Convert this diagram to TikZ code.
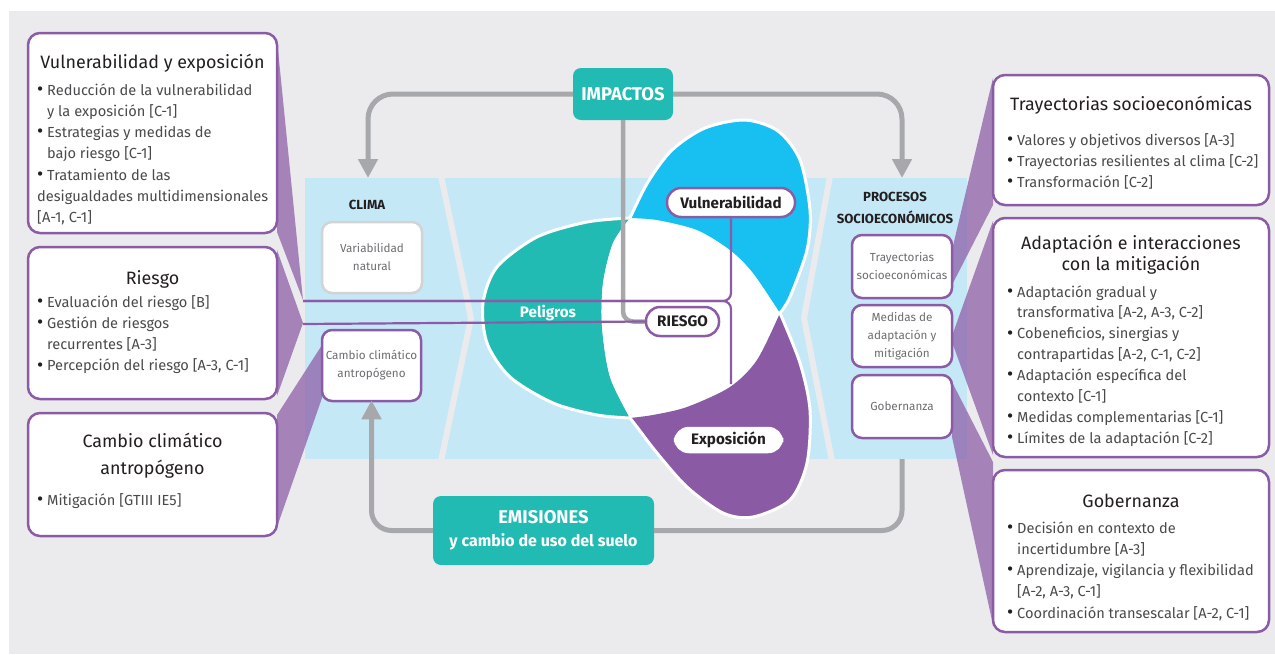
\documentclass[tikz,border=0pt]{standalone}
\usepackage{fontspec}
\usepackage{graphicx}
\setmainfont{Fira Sans}
\usetikzlibrary{arrows.meta,fit}
\definecolor{bg}{HTML}{EBEBED}
\definecolor{band}{HTML}{C5E8F7}
\definecolor{purp}{HTML}{8B5BA6}
\definecolor{tealc}{HTML}{22BBB3}
\definecolor{sky}{HTML}{17C0F0}
\definecolor{petpurp}{HTML}{8B5AA5}
\definecolor{arrowgray}{HTML}{A7A8AB}
\definecolor{txt}{HTML}{4A4A4C}
\definecolor{titlec}{HTML}{231F20}
\definecolor{smalltxt}{HTML}{6D6E71}
\definecolor{smallgray}{HTML}{D1D3D4}
\newcommand\bu{\makebox[10pt][l]{\textcolor{titlec}{\raisebox{-0.3pt}{\scalebox{1.3}{\textbullet}}}}}
\newcommand\ind{\hspace*{10pt}}
\tikzset{
  bigbox/.style={draw=purp, line width=2.5pt, fill=white, rounded corners=12pt, inner sep=0pt},
  smallbox/.style={draw=purp, line width=2.5pt, fill=white, rounded corners=10pt, inner sep=0pt},
  graybox/.style={smallbox, draw=smallgray},
  pill/.style={draw=purp, line width=2.5pt, fill=white, rounded corners=14pt, inner sep=0pt},
  headbox/.style={fill=tealc, rounded corners=8pt, inner sep=0pt},
  bodytxt/.style={align=left, inner sep=0pt, text=txt, font=\fontsize{14.6}{21.3}\selectfont},
  titletxt/.style={align=center, inner sep=0pt, text=titlec, font=\fontsize{17.9}{27}\selectfont},
  smalltext/.style={align=center, inner sep=0pt, text=smalltxt, font=\fontsize{11.7}{18}\selectfont},
  pilltxt/.style={inner sep=0pt, text=titlec, font=\fontsize{15.2}{20}\selectfont\bfseries},
  headtxt/.style={align=center, inner sep=0pt, text=white, font=\fontsize{18.4}{23}\selectfont\bfseries},
  labeltxt/.style={align=center, inner sep=0pt, text=titlec, font=\fontsize{13.2}{22}\selectfont\bfseries},
  wedge/.style={fill=purp, fill opacity=0.72},
  gline/.style={draw=arrowgray, line width=5pt},
  garrow/.style={gline, -{Triangle[width=19pt,length=19pt]}},
  pline/.style={draw=purp, line width=2.2pt},
  outline/.style={draw=white, line width=3pt}
}
\begin{document}
\begin{tikzpicture}[x=1pt,y=-1pt]
\useasboundingbox (0,0) rectangle (1275,654);
\fill[white] (0,0) rectangle (1275,654);
\fill[bg] (9,11) rectangle (1275,654);
% band
\fill[band] (305,178) rectangle (967,459);
\draw[bg, line width=6pt] (441,176) -- (471,318) -- (441,461);
\draw[bg, line width=6pt] (830,176) -- (804,318) -- (832,461);
% wedges
\fill[wedge] (277,40) -- (303,300) -- (277,232) -- cycle;
\fill[wedge] (277,250) -- (303,323) -- (277,396) -- cycle;
\fill[wedge] (277,415) -- (322,345) -- (322,398) -- (277,527) -- cycle;
\fill[wedge] (993,78) -- (952,250) -- (952,285) -- (993,205) -- cycle;
\fill[wedge] (993,221) -- (952,336) -- (952,342) -- (993,455) -- cycle;
\fill[wedge] (952,382) -- (993,462) -- (993,625) -- (952,437) -- cycle;
% headers
\node[headbox, fit={(573,68) (673,120)}] (imp) {};
\node[headtxt] (imp-t) at (imp.center) {IMPACTOS};
\node[headbox, fit={(433,496) (654,565)}] (emi) {};
\node[headtxt] (emi-t) at (emi.center) {EMISIONES\\\fontsize{16}{20}\selectfont y cambio de uso del suelo};
% gray arrows
\coordinate (climaA) at (368,178);
\coordinate (procA) at (902,178);
\coordinate (procB) at (902,459);
\draw[garrow, rounded corners=25pt] (imp.west) -| (climaA);
\draw[garrow, rounded corners=25pt] (imp.east) -| (procA);
% petals
\fill[tealc] plot[smooth] coordinates {(630,218) (587,222) (537,237) (497,267) (483,303) (487,343) (510,377) (553,403) (597,415) (630,418)} -- plot[smooth] coordinates {(630,418) (610,377) (602,327) (603,283) (613,243) (630,218)} -- cycle;
\fill[white] plot[smooth] coordinates {(630,218) (657,220) (697,230) (730,250) (753,273) (780,313)} -- plot[smooth] coordinates {(780,313) (757,360) (730,387) (687,407) (653,415) (630,418)} -- plot[smooth] coordinates {(630,418) (610,377) (602,327) (603,283) (613,243) (630,218)} -- cycle;
\fill[sky] plot[smooth] coordinates {(630,218) (648,182) (672,150) (705,128) (745,120) (778,131) (800,160) (810,210) (807,250) (790,297) (780,313)} -- plot[smooth] coordinates {(780,313) (753,273) (730,250) (697,230) (657,220) (630,218)} -- cycle;
\fill[petpurp] plot[smooth] coordinates {(780,313) (800,363) (810,410) (807,463) (790,500) (753,517) (723,513) (687,487) (657,453) (637,427) (630,418)} -- plot[smooth] coordinates {(630,418) (653,415) (687,407) (730,387) (757,360) (780,313)} -- cycle;
\draw[outline] plot[smooth] coordinates {(630,218) (587,222) (537,237) (497,267) (483,303) (487,343) (510,377) (553,403) (597,415) (630,418)};
\draw[outline] plot[smooth] coordinates {(630,218) (648,182) (672,150) (705,128) (745,120) (778,131) (800,160) (810,210) (807,250) (790,297) (780,313)};
\draw[outline] plot[smooth] coordinates {(780,313) (800,363) (810,410) (807,463) (790,500) (753,517) (723,513) (687,487) (657,453) (637,427) (630,418)};
\node[inner sep=0pt, text=white, font=\fontsize{15.2}{20}\selectfont\bfseries] (pel) at (548,313) {Peligros};
% pills
\node[pill, fit={(667,188) (795,217)}] (vulp) {};
\node[pilltxt] (vulp-t) at (vulp.center) {Vulnerabilidad};
\node[pill, fit={(646,307) (719,336)}] (riesgo) {};
\node[pilltxt] (riesgo-t) at (riesgo.center) {RIESGO};
% lines
\coordinate (L1) at (303,301);
\coordinate (L2) at (303,324);
\coordinate (E1) at (731,384);
\draw[gline, line width=4.5pt, rounded corners=10pt] (imp.south) |- (riesgo.west);
\draw[pline, rounded corners=8pt] (L1) -| (vulp.south);
\draw[pline, rounded corners=8pt] (L1) -| (E1);
\draw[pline] (L2) -- (riesgo.west);
\node[pill, draw=white, fit={(675,428) (782,452)}] (expo) {};
\node[pilltxt] (expo-t) at (expo.center) {Exposición};
% small boxes
\node[graybox, fit={(322,222) (422,293)}] (var) {};
\node[smalltext] (var-t) at (var.center) {Variabilidad\\natural};
\node[smallbox, fit={(322,330) (421,401)}] (ccs) {};
\node[smalltext] (ccs-t) at (ccs.center) {Cambio climático\\antropógeno};
\node[smallbox, fit={(852,235) (952,298)}] (tray) {};
\node[smalltext] (tray-t) at (tray.center) {Trayectorias\\socioeconómicas};
\node[smallbox, fit={(852,305) (952,367)}] (med) {};
\node[smalltext] (med-t) at (med.center) {Medidas de\\adaptación y\\mitigación};
\node[smallbox, fit={(852,375) (952,438)}] (gob) {};
\node[smalltext] (gob-t) at (gob.center) {Gobernanza};
\node[labeltxt] (clima) at (367,205) {CLIMA};
\node[labeltxt] (proc) at (895,208) {PROCESOS\\SOCIOECONÓMICOS};
% bottom arrows
\draw[garrow, rounded corners=20pt, shorten >=-2pt] (emi.west) -| (ccs.south);
\draw[gline, rounded corners=20pt] (emi.east) -| (procB);
% big boxes left
\node[bigbox, fit={(28,33) (277,233)}] (bvul) {};
\node[titletxt, anchor=base] (bvul-t) at (152.5,68) {Vulnerabilidad y exposición};
\node[bodytxt, anchor=base west] (bvul-b) at (37,222.8) {\bu Reducción de la vulnerabilidad\\\ind y la exposición [C-1]\\\bu Estrategias y medidas de\\\ind bajo riesgo [C-1]\\\bu Tratamiento de las\\desigualdades multidimensionales\\{}[A-1, C-1]};
\node[bigbox, fit={(28,247) (277,399)}] (bries) {};
\node[titletxt, anchor=base] (bries-t) at (152.5,284) {Riesgo};
\node[bodytxt, anchor=base west] (bries-b) at (37,370.9) {\bu Evaluación del riesgo [B]\\\bu Gestión de riesgos\\\ind recurrentes [A-3]\\\bu Percepción del riesgo [A-3, C-1]};
\node[bigbox, fit={(28,413) (277,536)}] (bcc) {};
\node[titletxt, anchor=base] (bcc-t) at (152.5,474) {Cambio climático\\antropógeno};
\node[bodytxt, anchor=base west] (bcc-b) at (37,505) {\bu Mitigación [GTIII IE5]};
% big boxes right
\node[bigbox, fit={(993,75) (1269,205)}] (btray) {};
\node[titletxt, anchor=base] (btray-t) at (1131,110) {Trayectorias socioeconómicas};
\node[bodytxt, anchor=base west] (btray-b) at (1007,187.6) {\bu Valores y objetivos diversos [A-3]\\\bu Trayectorias resilientes al clima [C-2]\\\bu Transformación [C-2]};
\node[bigbox, fit={(993,218) (1269,457)}] (badap) {};
\node[titletxt, anchor=base, font=\fontsize{17.9}{21.5}\selectfont] (badap-t) at (1131,270.5) {Adaptación e interacciones\\con la mitigación};
\node[bodytxt, anchor=base west, font=\fontsize{14.6}{20.9}\selectfont] (badap-b) at (1007,443.3) {\bu Adaptación gradual y\\\ind transformativa [A-2, A-3, C-2]\\\bu Cobeneficios, sinergias y\\\ind contrapartidas [A-2, C-1, C-2]\\\bu Adaptación específica del\\\ind contexto [C-1]\\\bu Medidas complementarias [C-1]\\\bu Límites de la adaptación [C-2]};
\node[bigbox, fit={(993,470) (1269,632)}] (bgob) {};
\node[titletxt, anchor=base] (bgob-t) at (1131,507) {Gobernanza};
\node[bodytxt, anchor=base west] (bgob-b) at (1007,618.2) {\bu Decisión en contexto de\\\ind incertidumbre [A-3]\\\bu Aprendizaje, vigilancia y flexibilidad\\\ind [A-2, A-3, C-1]\\\bu Coordinación transescalar [A-2, C-1]};
\end{tikzpicture}
\end{document}
